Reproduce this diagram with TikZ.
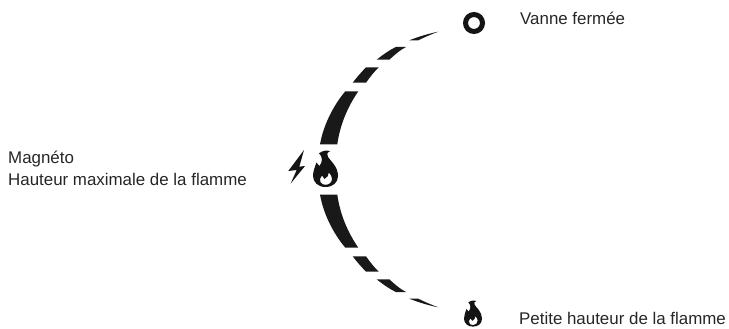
\documentclass[tikz,border=0pt]{standalone}
\usepackage{fontspec}
\setmainfont{Liberation Sans}
\tikzset{
  x=1pt,y=-1pt,
  label text/.style={anchor=base west,inner sep=0pt,font=\fontsize{16.9}{20}\selectfont,text=black!85},
  gauge/.style={fill=black!90,draw=none},
  glyph/.style={fill=black!92,draw=none,even odd rule},
  ring/.style={draw=black!92,line width=5pt}
}
\newcommand{\flamepath}{%
  (12.3,37) .. controls (5,37) and (0,32) .. (0,26)
  .. controls (0,21) and (2,17) .. (3.4,12.5)
  .. controls (4.6,13.5) and (5.6,14.5) .. (6.4,16)
  .. controls (9.5,12.5) and (10,7) .. (6,3.2)
  .. controls (10,0.5) and (14,0) .. (17,1.2)
  .. controls (14,2.5) and (13.5,4.5) .. (15,7)
  .. controls (17.5,11) and (25,16.5) .. (25,26)
  .. controls (25,32.5) and (20,37) .. (12.3,37) -- cycle
  (12.5,34.8) .. controls (16,34.8) and (19,32.5) .. (19,28.8)
  .. controls (19,26) and (17.5,24.5) .. (15.8,22.5)
  .. controls (15.8,25) and (14.5,27.5) .. (11.5,29)
  .. controls (10.5,28) and (9.8,27) .. (9,25.5)
  .. controls (7,27.5) and (6.4,30) .. (7.4,32)
  .. controls (8.4,34) and (10,34.8) .. (12.5,34.8) -- cycle}
\begin{document}
\begin{tikzpicture}
\useasboundingbox (0,0) rectangle (729,329);
\fill[gauge] (409.3,40.3) .. controls (419,36.5) and (429,33.5) .. (438.3,31.7) .. controls (432,34) and (425,37) .. (418.3,40.3) -- cycle;
\fill[gauge] (395.7,47) -- (406,47) .. controls (400,50) and (394.5,55) .. (389.3,59.7) -- (376.7,59.7) .. controls (383,54.5) and (389,50.5) .. (395.7,47) -- cycle;
\fill[gauge] (366,67.3) -- (378.7,67.3) .. controls (374,72) and (370,77) .. (366,82.7) -- (352.7,82.7) .. controls (357,77) and (361.5,72) .. (366,67.3) -- cycle;
\fill[gauge] (345.3,91.3) -- (358.3,91.3) .. controls (347.5,107) and (340,125) .. (337.3,144.3) -- (320,144.3) .. controls (323.5,125) and (333,106) .. (345.3,91.3) -- cycle;
\fill[gauge] (409.3,298.7) .. controls (419,302.5) and (429,305.5) .. (438.3,307.3) .. controls (432,305) and (425,302) .. (418.3,298.7) -- cycle;
\fill[gauge] (395.7,292) -- (406,292) .. controls (400,289) and (394.5,284) .. (389.3,279.3) -- (376.7,279.3) .. controls (383,284.5) and (389,288.5) .. (395.7,292) -- cycle;
\fill[gauge] (366,271.7) -- (378.7,271.7) .. controls (374,267) and (370,262) .. (366,256.3) -- (352.7,256.3) .. controls (357,262) and (361.5,267) .. (366,271.7) -- cycle;
\fill[gauge] (345.3,247.7) -- (358.3,247.7) .. controls (347.5,232) and (340,214) .. (337.3,194.7) -- (320,194.7) .. controls (323.5,214) and (333,233) .. (345.3,247.7) -- cycle;
\node[circle,ring,minimum size=17pt,inner sep=0pt] (closed) at (474,23) {};
\fill[glyph] (304,150) -- (288.3,171) -- (296.7,170) -- (290.7,183.5) -- (305,166) -- (299.3,166.7) -- cycle;
\begin{scope}[shift={(313,150)}]
\fill[glyph] \flamepath;
\end{scope}
\begin{scope}[shift={(464,300)},scale=0.72]
\fill[glyph] \flamepath;
\end{scope}
\node[label text] (t1) at (520,25) {Vanne fermée};
\node[label text] (t2) at (8,164) {Magnéto};
\node[label text] (t3) at (8,185.5) {Hauteur maximale de la flamme};
\node[label text] (t4) at (519,324) {Petite hauteur de la flamme};
\end{tikzpicture}
\end{document}
